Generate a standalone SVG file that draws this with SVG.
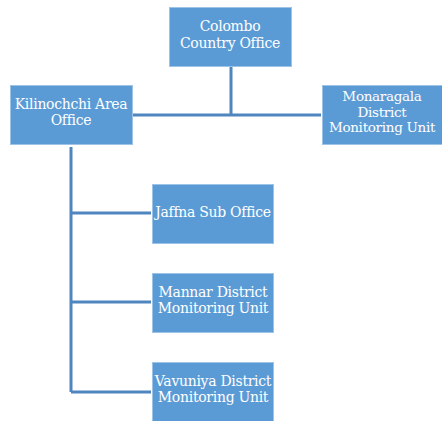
<svg xmlns="http://www.w3.org/2000/svg" width="442" height="421" viewBox="0 0 442 421">
<style>
.box{fill:#5B9BD5;stroke:#9DC3E6;stroke-width:1}
.t{font-family:"DejaVu Serif","Liberation Serif",serif;font-size:14px;fill:#ffffff;text-anchor:middle;letter-spacing:-0.3px}
.s{font-size:13.5px}
.ln{stroke:#4F86C0;stroke-width:3;fill:none}
</style>
<rect width="442" height="421" fill="#ffffff"/>
<g id="connectors">
<path class="ln" d="M231 67V115M133 115H321"/>
<path class="ln" d="M71 147V392M71 213H151M71 302H151M71 392H151"/>
</g>
<g id="colombo"><rect class="box" x="169.5" y="7.5" width="122" height="59"/>
<text class="t" x="230" y="31">Colombo</text><text class="t" x="230" y="48">Country Office</text></g>
<g id="kilinochchi"><rect class="box" x="10.5" y="85.5" width="122" height="59"/>
<text class="t" x="71" y="109">Kilinochchi Area</text><text class="t" x="71" y="125">Office</text></g>
<g id="monaragala"><rect class="box" x="322.5" y="85.5" width="121" height="59"/>
<text class="t s" x="382" y="101">Monaragala</text><text class="t s" x="382" y="116.5">District</text><text class="t s" x="382" y="132">Monitoring Unit</text></g>
<g id="jaffna"><rect class="box" x="152.5" y="184.5" width="121" height="59"/>
<text class="t" x="213" y="217">Jaffna Sub Office</text></g>
<g id="mannar"><rect class="box" x="152.5" y="273.5" width="121" height="59"/>
<text class="t" x="213" y="297">Mannar District</text><text class="t" x="213" y="313">Monitoring Unit</text></g>
<g id="vavuniya"><rect class="box" x="152.5" y="362.5" width="121" height="59"/>
<text class="t" x="213" y="386">Vavuniya District</text><text class="t" x="213" y="402">Monitoring Unit</text></g>
</svg>
